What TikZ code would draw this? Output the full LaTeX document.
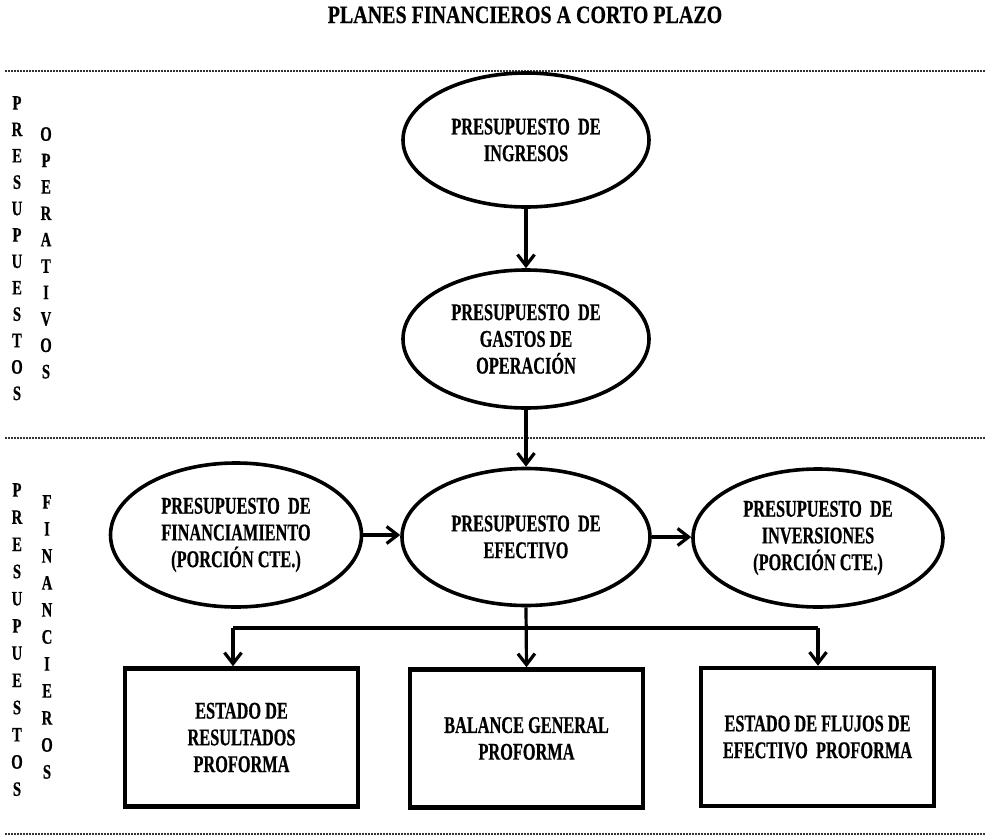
\documentclass[tikz,border=0pt]{standalone}
\usepackage{fontspec}
\setmainfont{Liberation Serif}
\newfontfamily\cond{Liberation Serif}[FakeStretch=0.68,BoldFeatures={FakeBold=0.5}]
\newfontfamily\conds{Liberation Serif}[FakeStretch=0.72,BoldFeatures={FakeBold=0.6}]
\newfontfamily\condt{Liberation Serif}[FakeStretch=0.80,BoldFeatures={FakeBold=0.5}]
\usetikzlibrary{shapes.geometric,arrows.meta}
\begin{document}
\begin{tikzpicture}[x=1pt,y=-1pt,
  txt/.style={font=\cond\bfseries\fontsize{24}{26.7}\selectfont,align=center,inner sep=0pt},
  ell/.style={txt,ellipse,draw,line width=3.6pt},
  boxn/.style={txt,rectangle,draw,line width=4.5pt,minimum width=233pt,minimum height=138pt},
  side/.style={font=\conds\bfseries\fontsize{20.5}{26.4}\selectfont,align=center,inner sep=0pt,anchor=north},
  sep/.style={draw=black!80,line width=1.1pt,dash pattern=on 2pt off 1pt},
  arr/.style={line width=3.2pt,-{Straight Barb[length=11pt,width=17pt,line width=3.2pt]}},
  lnk/.style={line width=3.2pt}]
\useasboundingbox (0,0) rectangle (986,838);
% title
\node[font=\condt\bfseries\fontsize{25}{28}\selectfont,anchor=base,inner sep=0pt] (title) at (525,23) {PLANES FINANCIEROS A CORTO PLAZO};
% separators
\draw[sep] (5,71) -- (986,71);
\draw[sep] (5,438) -- (986,438);
\draw[sep] (5,834) -- (986,834);
% side labels
\node[side] (sp1) at (17,96) {P\\R\\E\\S\\U\\P\\U\\E\\S\\T\\O\\S};
\node[side] (sop) at (46,127) {O\\P\\E\\R\\A\\T\\I\\V\\O\\S};
\node[side,font=\conds\bfseries\fontsize{20.5}{27.2}\selectfont] (sp2) at (17,483) {P\\R\\E\\S\\U\\P\\U\\E\\S\\T\\O\\S};
\node[side,font=\conds\bfseries\fontsize{20.5}{27}\selectfont] (sfi) at (47,495) {F\\I\\N\\A\\N\\C\\I\\E\\R\\O\\S};
% ellipses
\node[ell,minimum width=246pt,minimum height=134pt] (ing) at (526,140) {PRESUPUESTO\ \ DE\\INGRESOS};
\node[ell,minimum width=246pt,minimum height=138pt] (gas) at (526,339) {PRESUPUESTO\ \ DE\\GASTOS DE\\OPERACIÓN};
\node[ell,minimum width=248pt,minimum height=137pt] (efe) at (526,537) {PRESUPUESTO\ \ DE\\EFECTIVO};
\node[ell,minimum width=251pt,minimum height=144pt] (fin) at (236,535) {PRESUPUESTO\ \ DE\\FINANCIAMIENTO\\(PORCIÓN CTE.)};
\node[ell,minimum width=250pt,minimum height=138pt] (inv) at (818,538) {PRESUPUESTO\ \ DE\\INVERSIONES\\(PORCIÓN CTE.)};
% boxes
\node[boxn] (b1) at (241.5,737.5) {ESTADO DE\\RESULTADOS\\PROFORMA};
\node[boxn] (b2) at (526.5,738.5) {BALANCE GENERAL\\PROFORMA};
\node[boxn] (b3) at (817.5,737) {ESTADO DE FLUJOS DE\\EFECTIVO\ \ PROFORMA};
% connectors
\draw[arr] (ing.south) -- (gas.north);
\draw[arr] (gas.south) -- (efe.north);
\draw[arr] (fin.east) -- (efe.west |- fin.east);
\draw[arr] (efe.east) -- (inv.west |- efe.east);
\draw[arr] (efe.south) -- (b2.north);
\coordinate (jl) at (233,628);
\coordinate (jr) at (818,628);
\draw[lnk] (jl) -- (jr);
\draw[arr] (jl) -- (jl |- b1.north);
\draw[arr] (jr) -- (jr |- b3.north);
\end{tikzpicture}
\end{document}
